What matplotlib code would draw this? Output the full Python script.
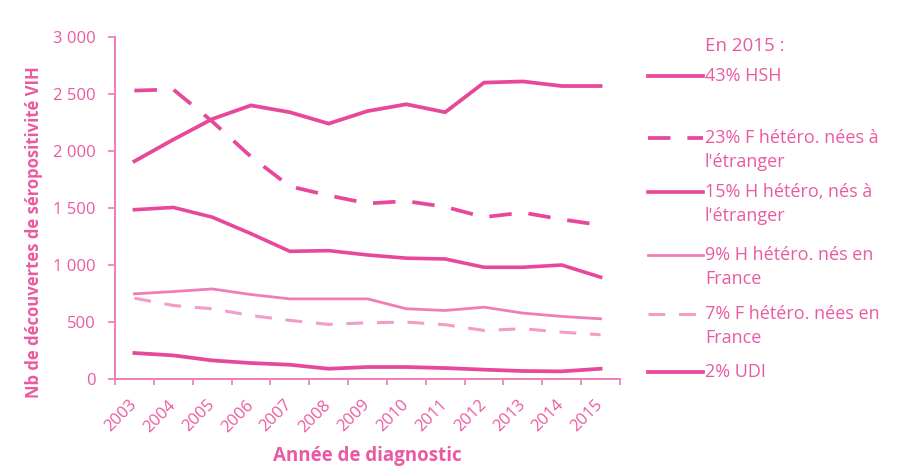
import matplotlib
matplotlib.use("Agg")
import matplotlib.pyplot as plt
from matplotlib.lines import Line2D
from matplotlib.transforms import ScaledTranslation

years = [str(y) for y in range(2003, 2016)]
hsh = [1910, 2100, 2280, 2400, 2340, 2240, 2350, 2410, 2340, 2600, 2610, 2570, 2570]
f_etr = [2530, 2540, 2260, 1950, 1690, 1610, 1540, 1560, 1510, 1420, 1460, 1400, 1350]
h_etr = [1485, 1505, 1420, 1275, 1120, 1126, 1088, 1060, 1053, 980, 980, 1000, 893]
h_fr = [747, 767, 790, 741, 703, 703, 703, 616, 601, 630, 578, 549, 528]
f_fr = [709, 645, 616, 557, 514, 479, 493, 499, 476, 426, 441, 411, 388]
udi = [228, 207, 163, 140, 125, 90, 105, 105, 96, 82, 70, 67, 90]

labels = [["43% HSH"], ["23% F hétéro. nées à", "l'étranger"], ["15% H hétéro, nés à", "l'étranger"],
          ["9% H hétéro. nés en", "France"], ["7% F hétéro. nées en", "France"], ["2% UDI"]]
yticks = [0, 500, 1000, 1500, 2000, 2500, 3000]
ytick_labels = ["0", "500", "1 000", "1 500", "2 000", "2 500", "3 000"]

main = "#E8489A"
light = "#F07DB6"
lighter = "#F39CC7"
txt = "#EA5AA2"

plt.rcParams['font.family'] = ['Open Sans', 'DejaVu Sans']

fig = plt.figure(figsize=(9.02, 4.68), dpi=100)
W, H = 902.0, 468.0
ax = fig.add_axes([115 / W, 1 - 379 / H, 505 / W, 342 / H])

x = list(range(len(years)))
styles = [
    dict(color=main, lw=2.7, ls='-'),
    dict(color=main, lw=2.7, ls=(0, (6, 4.5))),
    dict(color=main, lw=2.6, ls='-'),
    dict(color=light, lw=2.0, ls='-'),
    dict(color=lighter, lw=2.2, ls=(0, (5.5, 4.5))),
    dict(color=main, lw=2.7, ls='-'),
]
series = [hsh, f_etr, h_etr, h_fr, f_fr, udi]
for s, st in zip(series, styles):
    ax.plot(x, s, solid_joinstyle='round', **st)

ax.set_xlim(-0.5, len(years) - 0.5)
ax.set_ylim(0, 3000)
ax.set_yticks(yticks)
ax.set_yticklabels(ytick_labels)
ax.set_xticks([i - 0.5 for i in range(len(years) + 1)])
ax.set_xticklabels([])
ax.set_xticks(x, minor=True)
ax.set_xticklabels(years, minor=True, rotation=45, ha='right', va='center',
                   rotation_mode='anchor')
off = ScaledTranslation(6 / 100, 0, fig.dpi_scale_trans)
for lab in ax.get_xticklabels(minor=True):
    lab.set_transform(lab.get_transform() + off)
ax.tick_params(axis='x', which='minor', length=0, pad=17, labelcolor=txt, labelsize=12)
ax.tick_params(axis='x', which='major', length=4, direction='out', color=light, width=1.2)
ax.tick_params(axis='y', length=5, direction='out', color=light, width=1.2, labelcolor=txt,
               labelsize=12, pad=9)
for sp in ['top', 'right']:
    ax.spines[sp].set_visible(False)
for sp in ['left', 'bottom']:
    ax.spines[sp].set_color(light)
    ax.spines[sp].set_linewidth(1.4)

ax.set_ylabel("Nb de découvertes de séropositivité VIH", color=txt, fontsize=12,
              fontweight='bold')
ax.yaxis.set_label_coords(-0.143, 0.43)
ax.set_xlabel("Année de diagnostic", color=txt, fontsize=13.5, fontweight='bold')
ax.xaxis.set_label_coords(0.5, -0.195)

# legend drawn manually
fig.text(745 / W, 1 - 46 / H, "En 2015 :", color=txt, fontsize=13.5, ha='center', va='center')
ys = [76, 138, 192, 255, 314, 372]
for yy, labl, st in zip(ys, labels, styles):
    fy = 1 - yy / H
    fig.add_artist(Line2D([648 / W, 703 / W], [fy, fy], transform=fig.transFigure, **st))
    for k, line in enumerate(labl):
        fig.text(705 / W, 1 - (yy + 24 * k) / H, line, color=txt, fontsize=13,
                 ha='left', va='center')

fig.savefig("out.png", dpi=100)
